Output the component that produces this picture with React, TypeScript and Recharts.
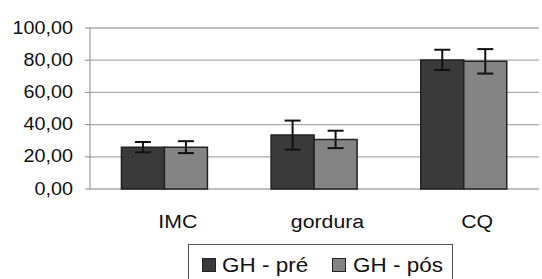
import React from 'react';
import { BarChart, Bar, XAxis, YAxis, CartesianGrid, ErrorBar } from 'recharts';

const categories = ['IMC', 'gordura', 'CQ'];
const preValues = [26, 33.5, 80.2];
const posValues = [26, 30.8, 79.3];
const preErrors = [3.2, 9, 6.3];
const posErrors = [3.7, 5.4, 7.6];
const yTicks = [0, 20, 40, 60, 80, 100];
const seriesNames = ['GH - pré', 'GH - pós'];
const seriesColors = ['#3a3a3a', '#848484'];

const data = categories.map((name, i) => ({
  name,
  pre: preValues[i],
  pos: posValues[i],
  preErr: preErrors[i],
  posErr: posErrors[i],
  edge: i,
}));

const font = '"Liberation Sans", Arial, sans-serif';

const fmt = (v: number) => v.toFixed(2).replace('.', ',');

const YTick = (props: any) => {
  const { x, y, payload } = props;
  return (
    <g transform={`translate(${x},${y}) scale(1.07,1)`}>
      <text x={0} y={0} dy={5.5} textAnchor="end" fontSize={18.5} fontFamily={font} fill="#111">
        {fmt(payload.value)}
      </text>
    </g>
  );
};

const XTick = (props: any) => {
  const { x, y, payload } = props;
  return (
    <g transform={`translate(${x + 13},${y}) scale(1.12,1)`}>
      <text x={0} y={0} textAnchor="middle" fontSize={19} fontFamily={font} fill="#111">
        {payload.value}
      </text>
    </g>
  );
};

const LegendBox = () => (
  <div
    style={{
      position: 'absolute',
      left: 188,
      top: 244,
      width: 265,
      height: 50,
      boxSizing: 'border-box',
      border: '1px solid #555',
      background: '#fff',
      fontFamily: font,
      fontSize: 21,
      lineHeight: 'normal',
      color: '#111',
    }}
  >
    {seriesNames.map((n, i) => (
      <React.Fragment key={n}>
        <span
          style={{
            position: 'absolute',
            left: i === 0 ? 13 : 143,
            top: 13,
            width: 14,
            height: 14,
            boxSizing: 'border-box',
            background: seriesColors[i],
            border: '1px solid #222',
          }}
        />
        <span
          style={{
            position: 'absolute',
            left: i === 0 ? 33 : 164,
            top: 8,
            whiteSpace: 'nowrap',
            transform: 'scaleX(1.07)',
            transformOrigin: 'left center',
          }}
        >
          {n}
        </span>
      </React.Fragment>
    ))}
  </div>
);

export default function App() {
  return (
    <div style={{ position: 'absolute', left: 0, top: 0, width: 542, height: 279, background: '#fff', overflow: 'hidden' }}>
      <BarChart
        width={542}
        height={279}
        data={data}
        margin={{ top: 28, right: 3, bottom: 0, left: 0 }}
        barCategoryGap="21%"
        barGap={0}
      >
        <CartesianGrid vertical={false} stroke="#aaa" strokeWidth={1.3} />
        <XAxis
          xAxisId="edge"
          type="number"
          dataKey="edge"
          domain={[0, 3]}
          ticks={[0, 1, 2, 3]}
          tick={false}
          height={0}
          stroke="#888"
          tickSize={5}
          allowDataOverflow
        />
        <XAxis
          xAxisId="cat"
          dataKey="name"
          axisLine={false}
          tickLine={false}
          height={90}
          tickSize={0}
          tickMargin={39}
          tick={<XTick />}
        />
        <YAxis
          width={90}
          domain={[0, 100]}
          ticks={yTicks}
          stroke="#888"
          tickSize={5}
          tickMargin={12}
          tick={<YTick />}
        />
        <Bar xAxisId="cat" dataKey="pre" name={seriesNames[0]} fill={seriesColors[0]} stroke="#222" strokeWidth={1.5} isAnimationActive={false}>
          <ErrorBar dataKey="preErr" width={8} stroke="#111" strokeWidth={2} />
        </Bar>
        <Bar xAxisId="cat" dataKey="pos" name={seriesNames[1]} fill={seriesColors[1]} stroke="#222" strokeWidth={1.5} isAnimationActive={false}>
          <ErrorBar dataKey="posErr" width={8} stroke="#111" strokeWidth={2} />
        </Bar>
      </BarChart>
      <LegendBox />
    </div>
  );
}
